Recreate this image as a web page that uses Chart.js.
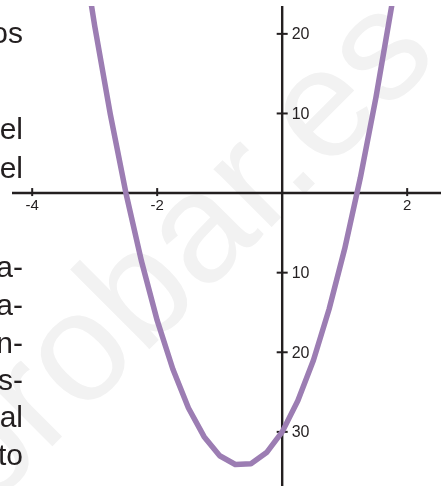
<!DOCTYPE html>
<html>
<head>
<meta charset="utf-8">
<script src="https://cdn.jsdelivr.net/npm/chart.js@4.4.0/dist/chart.umd.min.js"></script>
<style>
  html, body { margin: 0; padding: 0; background: #fff; }
  #wrap { position: relative; width: 441px; height: 486px; overflow: hidden; }
  #grafico { position: absolute; left: 0; top: 0; }
  .linea {
    position: absolute; right: 418px; white-space: nowrap;
    font-family: "Liberation Sans", Arial, sans-serif; font-size: 30px;
    color: #231f20; line-height: 30px;
  }
</style>
</head>
<body>
<div id="wrap">
  <canvas id="grafico" width="441" height="486"></canvas>
</div>
<script>
// puntos de la parabola
const valoresX = [-3.25, -3, -2.75, -2.5, -2.25, -2, -1.75, -1.5, -1.25, -1, -0.75, -0.5, -0.25, 0, 0.25, 0.5, 0.75, 1, 1.25, 1.5, 1.75, 2];
const valoresY = [33.4, 21, 9.9, 0, -8.6, -16, -22.1, -27, -30.6, -33, -34.1, -34, -32.6, -30, -26.1, -21, -14.6, -7, 1.9, 12, 23.4, 36];

const ticksX = [-4, -2, 2];
const etiquetasX = ['-4', '-2', '2'];
const ticksY = [20, 10, -10, -20, -30];
const etiquetasY = ['20', '10', '10', '20', '30'];

// restos del texto de la pagina a la izquierda
const textoLineas = ['os', 'el', 'el', 'a-', 'a-', 'n-', 's-', 'al', 'to'];
const textoBase = [43, 139, 178, 277, 315, 353, 390, 427, 465];

const marca = 'probar.es';

const wrap = document.getElementById('wrap');
textoLineas.forEach((t, i) => {
  const d = document.createElement('div');
  d.className = 'linea';
  d.textContent = t;
  d.style.top = (textoBase[i] - 25) + 'px';
  wrap.appendChild(d);
});

const colorEje = '#231f20';

const marcaAgua = {
  id: 'marcaAgua',
  beforeDraw(chart) {
    const ctx = chart.ctx;
    ctx.save();
    ctx.translate(182, 256);
    ctx.rotate(-45 * Math.PI / 180);
    ctx.fillStyle = '#f2f2f2';
    ctx.font = '155px "Liberation Sans", Arial, sans-serif';
    ctx.textAlign = 'center';
    ctx.textBaseline = 'middle';
    ctx.fillText(marca, 0, 0);
    ctx.restore();
  }
};

const ejes = {
  id: 'ejes',
  beforeDatasetsDraw(chart) {
    const ctx = chart.ctx;
    const sx = chart.scales.x;
    const sy = chart.scales.y;
    const x0 = sx.getPixelForValue(0);
    const y0 = sy.getPixelForValue(0);
    ctx.save();
    ctx.strokeStyle = colorEje;
    ctx.lineWidth = 2.4;
    ctx.beginPath();
    ctx.moveTo(12, y0);
    ctx.lineTo(441, y0);
    ctx.moveTo(x0, chart.chartArea.top);
    ctx.lineTo(x0, 486);
    ctx.stroke();

    ctx.lineWidth = 2;
    ctx.fillStyle = colorEje;
    ctx.font = '15px "Liberation Sans", Arial, sans-serif';
    ctx.textAlign = 'center';
    ctx.textBaseline = 'top';
    ticksX.forEach((v, i) => {
      const px = sx.getPixelForValue(v);
      ctx.beginPath();
      ctx.moveTo(px, y0 - 5);
      ctx.lineTo(px, y0 + 3);
      ctx.stroke();
      ctx.fillText(etiquetasX[i], px, y0 + 5);
    });
    ctx.font = '16px "Liberation Sans", Arial, sans-serif';
    ctx.textAlign = 'left';
    ctx.textBaseline = 'middle';
    ticksY.forEach((v, i) => {
      const py = sy.getPixelForValue(v);
      ctx.beginPath();
      ctx.moveTo(x0 - 5.5, py);
      ctx.lineTo(x0 + 5.5, py);
      ctx.stroke();
      ctx.fillText(etiquetasY[i], x0 + 9.5, py + 1);
    });
    ctx.restore();
  }
};

new Chart(document.getElementById('grafico'), {
  type: 'scatter',
  data: {
    datasets: [{
      data: valoresX.map((x, i) => ({ x, y: valoresY[i] })),
      showLine: true,
      borderColor: '#9c7db3',
      borderWidth: 5.5,
      pointRadius: 0,
      borderJoinStyle: 'round',
      clip: 0
    }]
  },
  options: {
    responsive: false,
    animation: false,
    devicePixelRatio: 1,
    layout: { padding: { top: 6, left: 0, right: 0, bottom: 0 } },
    plugins: { legend: { display: false }, tooltip: { enabled: false } },
    scales: {
      x: { type: 'linear', display: false, min: -4.515, max: 2.541 },
      y: { type: 'linear', display: false, min: -36.8, max: 23.5 }
    }
  },
  plugins: [marcaAgua, ejes]
});
</script>
</body>
</html>
